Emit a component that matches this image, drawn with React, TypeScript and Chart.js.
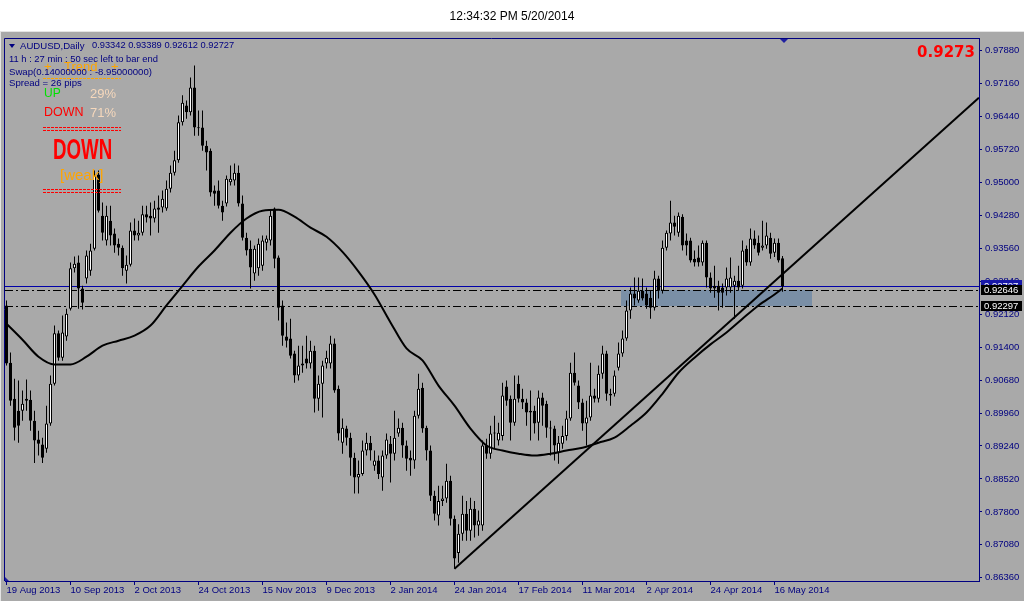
import React, { useEffect, useRef } from 'react';
import { Chart, registerables } from 'chart.js';

Chart.register(...registerables);

// ---- Daily AUDUSD candles (19 Aug 2013 .. 20 May 2014), index = trading day ----
const opens = [
  0.9231, 0.9106, 0.9027, 0.9001, 0.9001, 0.9023, 0.9025, 0.8979, 0.8938, 0.8927,
  0.8918, 0.8973, 0.9060, 0.9170, 0.9117, 0.9163, 0.9224, 0.9312, 0.9325, 0.9268,
  0.9290, 0.9307, 0.9355, 0.9517, 0.9427, 0.9373, 0.9416, 0.9388, 0.9366, 0.9357,
  0.9307, 0.9320, 0.9395, 0.9384, 0.9390, 0.9430, 0.9427, 0.9421, 0.9445, 0.9445,
  0.9443, 0.9486, 0.9521, 0.9548, 0.9631, 0.9668, 0.9653, 0.9707, 0.9620, 0.9620,
  0.9580, 0.9569, 0.9482, 0.9482, 0.9449, 0.9454, 0.9500, 0.9504, 0.9521, 0.9454,
  0.9379, 0.9355, 0.9301, 0.9312, 0.9318, 0.9368, 0.9373, 0.9443, 0.9336, 0.9231,
  0.9163, 0.9159, 0.9126, 0.9078, 0.9100, 0.9115, 0.9104, 0.9132, 0.9027, 0.9060,
  0.9104, 0.9104, 0.9148, 0.9049, 0.8931, 0.8962, 0.8942, 0.8898, 0.8855, 0.8863,
  0.8914, 0.8931, 0.8881, 0.8892, 0.8855, 0.8903, 0.8929, 0.8907, 0.8951, 0.8964,
  0.8925, 0.8898, 0.8892, 0.8990, 0.9051, 0.8964, 0.8914, 0.8815, 0.8772, 0.8804,
  0.8809, 0.8848, 0.8765, 0.8690, 0.8732, 0.8776, 0.8739, 0.8787, 0.8750, 0.8750,
  0.8925, 0.8907, 0.8951, 0.8936, 0.8946, 0.9054, 0.9027, 0.8975, 0.9060, 0.9027,
  0.9019, 0.8997, 0.9001, 0.8975, 0.9030, 0.9016, 0.8964, 0.8962, 0.8909, 0.8929,
  0.8946, 0.8984, 0.9084, 0.9056, 0.9019, 0.8973, 0.8986, 0.9034, 0.9027, 0.9082,
  0.9126, 0.9038, 0.9038, 0.9095, 0.9126, 0.9159, 0.9220, 0.9257, 0.9242, 0.9263,
  0.9257, 0.9248, 0.9226, 0.9290, 0.9263, 0.9357, 0.9388, 0.9412, 0.9390, 0.9425,
  0.9373, 0.9373, 0.9333, 0.9336, 0.9325, 0.9368, 0.9292, 0.9274, 0.9274, 0.9270,
  0.9270, 0.9270, 0.9274, 0.9285, 0.9274, 0.9355, 0.9325, 0.9377, 0.9368, 0.9357,
  0.9362, 0.9379, 0.9346, 0.9368, 0.93342,
];
const highs = [
  0.9242, 0.9128, 0.9071, 0.9067, 0.9045, 0.9069, 0.9045, 0.9001, 0.8957, 0.8942,
  0.9012, 0.9078, 0.9187, 0.9176, 0.9209, 0.9224, 0.9325, 0.9338, 0.9340, 0.9274,
  0.9351, 0.9366, 0.9526, 0.9526, 0.9456, 0.9449, 0.9449, 0.9399, 0.9377, 0.9362,
  0.9340, 0.9412, 0.9421, 0.9416, 0.9449, 0.9449, 0.9456, 0.9460, 0.9471, 0.9482,
  0.9504, 0.9537, 0.9569, 0.9646, 0.9690, 0.9679, 0.9729, 0.9755, 0.9657, 0.9657,
  0.9591, 0.9574, 0.9493, 0.9504, 0.9460, 0.9515, 0.9537, 0.9541, 0.9537, 0.9471,
  0.9390, 0.9373, 0.9362, 0.9377, 0.9384, 0.9384, 0.9438, 0.9445, 0.9340, 0.9242,
  0.9194, 0.9202, 0.9132, 0.9143, 0.9143, 0.9165, 0.9154, 0.9143, 0.9078, 0.9110,
  0.9132, 0.9165, 0.9159, 0.9056, 0.8984, 0.8968, 0.8953, 0.8909, 0.8892, 0.8936,
  0.8953, 0.8946, 0.8914, 0.8903, 0.8914, 0.8951, 0.8946, 0.9001, 0.8984, 0.8975,
  0.8936, 0.8914, 0.9001, 0.9082, 0.9062, 0.8968, 0.8925, 0.8826, 0.8837, 0.8837,
  0.8885, 0.8859, 0.8772, 0.8753, 0.8815, 0.8804, 0.8811, 0.8804, 0.8783, 0.8936,
  0.8940, 0.8968, 0.8990, 0.8975, 0.9062, 0.9067, 0.9034, 0.9078, 0.9078, 0.9049,
  0.9027, 0.9045, 0.9012, 0.9045, 0.9040, 0.9023, 0.8979, 0.8968, 0.8946, 0.8968,
  0.9001, 0.9106, 0.9128, 0.9067, 0.9027, 0.9023, 0.9106, 0.9049, 0.9100, 0.9143,
  0.9132, 0.9049, 0.9089, 0.9150, 0.9176, 0.9242, 0.9270, 0.9292, 0.9292, 0.9290,
  0.9270, 0.9263, 0.9307, 0.9296, 0.9373, 0.9395, 0.9460, 0.9427, 0.9434, 0.9430,
  0.9388, 0.9379, 0.9351, 0.9362, 0.9373, 0.9373, 0.9303, 0.9318, 0.9285, 0.9279,
  0.9314, 0.9336, 0.9296, 0.9318, 0.9373, 0.9362, 0.9399, 0.9395, 0.9384, 0.9416,
  0.9412, 0.9390, 0.9377, 0.9377, 0.93389,
];
const lows = [
  0.9100, 0.9012, 0.8936, 0.8931, 0.8979, 0.9001, 0.8957, 0.8887, 0.8903, 0.8887,
  0.8909, 0.8968, 0.9056, 0.9110, 0.9110, 0.9154, 0.9220, 0.9303, 0.9224, 0.9222,
  0.9279, 0.9296, 0.9351, 0.9434, 0.9373, 0.9362, 0.9362, 0.9346, 0.9340, 0.9296,
  0.9279, 0.9316, 0.9373, 0.9373, 0.9384, 0.9412, 0.9384, 0.9412, 0.9390, 0.9434,
  0.9438, 0.9478, 0.9515, 0.9543, 0.9624, 0.9639, 0.9646, 0.9602, 0.9602, 0.9569,
  0.9526, 0.9469, 0.9449, 0.9443, 0.9416, 0.9447, 0.9493, 0.9493, 0.9447, 0.9373,
  0.9340, 0.9268, 0.9285, 0.9296, 0.9307, 0.9351, 0.9362, 0.9312, 0.9198, 0.9143,
  0.9139, 0.9115, 0.9062, 0.9067, 0.9084, 0.9093, 0.9093, 0.8997, 0.9001, 0.8986,
  0.9093, 0.9093, 0.9040, 0.8936, 0.8907, 0.8925, 0.8859, 0.8820, 0.8820, 0.8859,
  0.8903, 0.8892, 0.8870, 0.8852, 0.8826, 0.8896, 0.8844, 0.8892, 0.8944, 0.8898,
  0.8870, 0.8859, 0.8874, 0.8984, 0.8953, 0.8892, 0.8804, 0.8761, 0.8750, 0.8793,
  0.8800, 0.8750, 0.8656, 0.8669, 0.8717, 0.8717, 0.8717, 0.8724, 0.8728, 0.8739,
  0.8896, 0.8896, 0.8918, 0.8925, 0.8936, 0.9012, 0.8936, 0.8968, 0.9019, 0.9005,
  0.8968, 0.8936, 0.8951, 0.8936, 0.8968, 0.8942, 0.8903, 0.8892, 0.8885, 0.8918,
  0.8936, 0.8979, 0.9056, 0.9005, 0.8957, 0.8925, 0.8979, 0.9019, 0.9019, 0.9071,
  0.9023, 0.9012, 0.9032, 0.9089, 0.9119, 0.9154, 0.9202, 0.9231, 0.9237, 0.9242,
  0.9224, 0.9202, 0.9220, 0.9246, 0.9257, 0.9351, 0.9373, 0.9384, 0.9381, 0.9351,
  0.9340, 0.9325, 0.9316, 0.9316, 0.9318, 0.9270, 0.9259, 0.9248, 0.9220, 0.9226,
  0.9253, 0.9259, 0.9202, 0.9263, 0.9268, 0.9318, 0.9318, 0.9355, 0.9340, 0.9351,
  0.9355, 0.9333, 0.9337, 0.9325, 0.92612,
];
const closes = [
  0.9104, 0.9023, 0.8964, 0.8968, 0.9016, 0.9027, 0.8979, 0.8936, 0.8929, 0.8898,
  0.8973, 0.9060, 0.9170, 0.9117, 0.9172, 0.9213, 0.9312, 0.9322, 0.9268, 0.9237,
  0.9340, 0.9351, 0.9515, 0.9438, 0.9390, 0.9427, 0.9384, 0.9362, 0.9357, 0.9312,
  0.9320, 0.9395, 0.9384, 0.9390, 0.9430, 0.9423, 0.9421, 0.9443, 0.9440, 0.9464,
  0.9486, 0.9521, 0.9548, 0.9631, 0.9674, 0.9653, 0.9707, 0.9620, 0.9618, 0.9580,
  0.9565, 0.9478, 0.9475, 0.9449, 0.9434, 0.9508, 0.9508, 0.9521, 0.9454, 0.9379,
  0.9351, 0.9314, 0.9355, 0.9366, 0.9373, 0.9377, 0.9427, 0.9333, 0.9226, 0.9165,
  0.9154, 0.9121, 0.9078, 0.9100, 0.9104, 0.9104, 0.9132, 0.9027, 0.9060, 0.9100,
  0.9117, 0.9148, 0.9045, 0.8951, 0.8964, 0.8942, 0.8898, 0.8855, 0.8863, 0.8914,
  0.8931, 0.8914, 0.8892, 0.8863, 0.8903, 0.8938, 0.8907, 0.8942, 0.8964, 0.8925,
  0.8896, 0.8892, 0.8990, 0.9049, 0.8962, 0.8914, 0.8815, 0.8776, 0.8804, 0.8809,
  0.8848, 0.8765, 0.8678, 0.8732, 0.8776, 0.8739, 0.8787, 0.8750, 0.8761, 0.8925,
  0.8907, 0.8951, 0.8953, 0.8953, 0.9034, 0.9023, 0.8975, 0.9027, 0.9027, 0.9019,
  0.8997, 0.9001, 0.8973, 0.9030, 0.9012, 0.8964, 0.8962, 0.8925, 0.8931, 0.8946,
  0.8984, 0.9084, 0.9062, 0.9019, 0.8973, 0.8986, 0.9034, 0.9027, 0.9082, 0.9126,
  0.9038, 0.9034, 0.9078, 0.9126, 0.9159, 0.9220, 0.9257, 0.9246, 0.9263, 0.9246,
  0.9231, 0.9226, 0.9290, 0.9263, 0.9357, 0.9390, 0.9412, 0.9403, 0.9427, 0.9362,
  0.9362, 0.9329, 0.9325, 0.9325, 0.9368, 0.9292, 0.9268, 0.9268, 0.9259, 0.9259,
  0.9290, 0.9292, 0.9285, 0.9270, 0.9351, 0.9325, 0.9377, 0.9362, 0.9346, 0.9362,
  0.9384, 0.9344, 0.9368, 0.9329, 0.92727,
];

// ---- moving average (at every 4th bar) ----
const maIndex = [
  0, 4, 8, 12, 16, 20, 24, 28, 32, 36, 40, 44, 48, 52, 56, 60, 64, 68, 72, 76,
  80, 84, 88, 92, 96, 100, 104, 108, 112, 116, 120, 124, 128, 132, 136, 140, 144,
  148, 152, 156, 160, 164, 168, 172, 176, 180, 184, 188, 192, 194,
];
const maValues = [
  0.9191, 0.9156, 0.9119, 0.9102, 0.9102, 0.9119, 0.9143, 0.9154, 0.9165, 0.9187,
  0.9231, 0.9274, 0.9316, 0.9351, 0.9390, 0.9421, 0.9438, 0.9440, 0.9425, 0.9401,
  0.9381, 0.9348, 0.9305, 0.9255, 0.9194, 0.9137, 0.9111, 0.9056, 0.9012, 0.8962,
  0.8925, 0.8914, 0.8907, 0.8903, 0.8907, 0.8914, 0.8920, 0.8931, 0.8942, 0.8968,
  0.8997, 0.9038, 0.9084, 0.9117, 0.9146, 0.9172, 0.9202, 0.9231, 0.9255, 0.9268,
];

// ---- trend line (two anchor points) ----
const trendIndex = [112, 243.1];
const trendValues = [0.8656, 0.9685];

// ---- levels ----
const bidPrice = 0.92727;
const levelPrices = [0.92646, 0.92297];
const zoneIndex = [153.6, 201.4];

// ---- axes ----
const dateTickIndex = [0, 16, 32, 48, 64, 80, 96, 112, 128, 144, 160, 176, 192];
const dateTickLabels = [
  '19 Aug 2013', '10 Sep 2013', '2 Oct 2013', '24 Oct 2013', '15 Nov 2013', '9 Dec 2013',
  '2 Jan 2014', '24 Jan 2014', '17 Feb 2014', '11 Mar 2014', '2 Apr 2014', '24 Apr 2014',
  '16 May 2014',
];
const priceTicks = [
  0.9788, 0.9716, 0.9644, 0.9572, 0.95, 0.9428, 0.9356, 0.9284, 0.9212, 0.914,
  0.9068, 0.8996, 0.8924, 0.8852, 0.878, 0.8708, 0.8636,
];
const priceMin = 0.8629;
const priceMax = 0.98153;

const FONT = "'Liberation Sans', Arial, sans-serif";
const NAVY = '#000080';
const BG = '#a9a9a9';

function T(props: any) {
  const { x, cy, size, color, children, bold, family, scaleX, right } = props;
  const style: any = {
    position: 'absolute',
    top: cy - size * 0.49,
    fontSize: size,
    lineHeight: 1,
    color,
    fontFamily: family || FONT,
    fontWeight: bold ? 'bold' : 'normal',
    whiteSpace: 'nowrap',
  };
  if (right !== undefined) style.right = 1024 - right;
  else style.left = x;
  if (scaleX) {
    style.transform = `scaleX(${scaleX})`;
    style.transformOrigin = 'left center';
  }
  return <div style={style}>{children}</div>;
}

function Dashes(props: any) {
  const { x, y, w, color } = props;
  return (
    <div
      style={{
        position: 'absolute',
        left: x,
        top: y,
        width: w,
        height: 1,
        background: `repeating-linear-gradient(90deg, ${color} 0px, ${color} 3px, transparent 3px, transparent 4px)`,
      }}
    />
  );
}

export default function App() {
  const ref = useRef<HTMLCanvasElement>(null);

  useEffect(() => {
    document.body.style.margin = '0';
    document.body.style.overflow = 'hidden';
    const canvas = ref.current;
    if (!canvas) return;

    const bodyColors = opens.map((o, i) => (closes[i] >= o ? '#ffffff' : '#000000'));

    const decor = {
      id: 'decor',
      beforeDraw(chart: any) {
        const { ctx, width, height } = chart;
        ctx.save();
        ctx.fillStyle = '#ffffff';
        ctx.fillRect(0, 0, width, height);
        ctx.fillStyle = BG;
        ctx.fillRect(0, 32, width, height - 32);
        ctx.fillStyle = '#e4e4e4';
        ctx.fillRect(0, 31, width, 1);
        ctx.fillRect(0, 31, 1, height - 31);
        ctx.restore();
      },
      beforeDatasetsDraw(chart: any) {
        const { ctx, chartArea: a, scales } = chart;
        const x = scales.x;
        const y = scales.y;
        ctx.save();
        ctx.beginPath();
        ctx.rect(a.left, a.top, a.right - a.left, a.bottom - a.top);
        ctx.clip();
        const zx1 = Math.round(x.getPixelForValue(zoneIndex[0]));
        const zx2 = Math.round(x.getPixelForValue(zoneIndex[1]));
        const zy1 = Math.round(y.getPixelForValue(levelPrices[0]));
        const zy2 = Math.round(y.getPixelForValue(levelPrices[1]));
        ctx.fillStyle = '#7a8fa6';
        ctx.fillRect(zx1, zy1, zx2 - zx1, zy2 - zy1);
        const by = Math.floor(y.getPixelForValue(bidPrice)) + 0.5;
        ctx.strokeStyle = '#0000a8';
        ctx.lineWidth = 1;
        ctx.beginPath();
        ctx.moveTo(a.left, by);
        ctx.lineTo(a.right, by);
        ctx.stroke();
        ctx.strokeStyle = '#000000';
        ctx.setLineDash([8, 3, 2, 3]);
        levelPrices.forEach((p) => {
          const ly = Math.floor(y.getPixelForValue(p)) + 0.5;
          ctx.beginPath();
          ctx.moveTo(a.left, ly);
          ctx.lineTo(a.right, ly);
          ctx.stroke();
        });
        ctx.restore();
      },
      afterDraw(chart: any) {
        const { ctx, chartArea: a, scales } = chart;
        const x = scales.x;
        const y = scales.y;
        ctx.save();
        ctx.strokeStyle = NAVY;
        ctx.lineWidth = 1;
        ctx.beginPath();
        ctx.moveTo(a.left - 0.5, a.bottom);
        ctx.lineTo(a.left - 0.5, a.top + 0.5);
        ctx.lineTo(a.right, a.top + 0.5);
        ctx.stroke();
        const boxes = [
          { p: bidPrice, bg: '#1818a8', h: 13 },
          { p: levelPrices[0], bg: '#000000', h: 10 },
          { p: levelPrices[1], bg: '#000000', h: 10 },
        ];
        ctx.font = `9.5px ${FONT}`;
        ctx.textBaseline = 'middle';
        ctx.textAlign = 'left';
        boxes.forEach((b) => {
          const cy = Math.round(y.getPixelForValue(b.p));
          ctx.fillStyle = b.bg;
          ctx.fillRect(a.right + 2, cy - Math.floor(b.h / 2), 41, b.h);
          ctx.fillStyle = '#ffffff';
          ctx.fillText(b.p.toFixed(5), a.right + 5, cy + 0.5);
        });
        const sx = Math.round(x.getPixelForValue(closes.length - 1)) + 1;
        ctx.fillStyle = '#2020a0';
        ctx.beginPath();
        ctx.moveTo(sx - 4, a.top + 1);
        ctx.lineTo(sx + 4, a.top + 1);
        ctx.lineTo(sx, a.top + 5);
        ctx.closePath();
        ctx.fill();
        ctx.beginPath();
        ctx.moveTo(a.left, a.bottom - 4);
        ctx.lineTo(a.left, a.bottom);
        ctx.lineTo(a.left + 4, a.bottom);
        ctx.closePath();
        ctx.fill();
        ctx.restore();
      },
    };

    const chart = new Chart(canvas, {
      type: 'bar',
      data: {
        datasets: [
          {
            type: 'line',
            label: 'MA',
            data: maIndex.map((v, k) => ({ x: v, y: maValues[k] })),
            borderColor: '#000000',
            borderWidth: 2,
            pointRadius: 0,
            cubicInterpolationMode: 'monotone',
            order: 0,
          },
          {
            type: 'line',
            label: 'Trend',
            data: trendIndex.map((v, k) => ({ x: v, y: trendValues[k] })),
            borderColor: '#000000',
            borderWidth: 2,
            pointRadius: 0,
            order: 0,
          },
          {
            type: 'bar',
            label: 'Body',
            data: opens.map((o, i) => ({ x: i, y: [Math.min(o, closes[i]), Math.max(o, closes[i])] })),
            backgroundColor: bodyColors,
            borderColor: '#000000',
            borderWidth: 1,
            borderSkipped: false,
            barThickness: 3,
            minBarLength: 1,
            grouped: false,
            inflateAmount: 0,
            order: 1,
          },
          {
            type: 'bar',
            label: 'Wick',
            data: lows.map((l, i) => ({ x: i, y: [l, highs[i]] })),
            backgroundColor: '#000000',
            borderWidth: 0,
            barThickness: 1,
            minBarLength: 1,
            grouped: false,
            inflateAmount: 0,
            order: 2,
          },
        ],
      } as any,
      options: {
        responsive: false,
        animation: false,
        events: [],
        layout: { padding: { left: 5, top: 38, right: 0, bottom: 0 } },
        plugins: {
          legend: { display: false },
          tooltip: { enabled: false },
          title: { display: false },
        },
        scales: {
          x: {
            type: 'linear',
            position: 'bottom',
            min: -0.375,
            max: 243.125,
            offset: false,
            afterBuildTicks: (s: any) => {
              s.ticks = dateTickIndex.map((v) => ({ value: v }));
            },
            afterFit: (s: any) => {
              s.height = 20;
            },
            ticks: {
              autoSkip: false,
              maxRotation: 0,
              align: 'start',
              padding: 0,
              color: NAVY,
              font: { family: FONT, size: 9.5 },
              callback: (v: any) => {
                const k = dateTickIndex.indexOf(Number(v));
                return k >= 0 ? dateTickLabels[k] : '';
              },
            },
            grid: { drawOnChartArea: false, drawTicks: true, tickLength: 4, color: NAVY, offset: false },
            border: { display: true, color: NAVY, width: 1 },
          },
          y: {
            type: 'linear',
            position: 'right',
            min: priceMin,
            max: priceMax,
            bounds: 'data',
            afterBuildTicks: (s: any) => {
              s.ticks = priceTicks.map((v) => ({ value: v }));
            },
            afterFit: (s: any) => {
              s.width = 45;
            },
            ticks: {
              padding: 3,
              color: NAVY,
              font: { family: FONT, size: 9.5 },
              callback: (v: any) => Number(v).toFixed(5),
            },
            grid: { drawOnChartArea: false, drawTicks: true, tickLength: 3, color: NAVY },
            border: { display: true, color: NAVY, width: 1 },
          },
        },
      } as any,
      plugins: [decor],
    });

    return () => {
      chart.destroy();
    };
  }, []);

  return (
    <div
      style={{
        position: 'absolute',
        left: 0,
        top: 0,
        width: 1024,
        height: 601,
        overflow: 'hidden',
        background: '#ffffff',
      }}
    >
      <canvas ref={ref} width={1024} height={601} style={{ position: 'absolute', left: 0, top: 0 }} />
      <div
        style={{
          position: 'absolute',
          left: 0,
          top: 10,
          width: 1024,
          textAlign: 'center',
          fontFamily: FONT,
          fontSize: 12,
          lineHeight: '12px',
          color: '#000000',
        }}
      >
        12:34:32 PM 5/20/2014
      </div>

      <T x={44} cy={66} size={13} color="#ffa500">+</T>
      <T x={64} cy={66} size={13} color="#ffa500">Trend</T>
      <T x={111} cy={66} size={13} color="#ffa500">+</T>
      <Dashes x={43} y={78} w={78} color="#ffa500" />

      <div
        style={{
          position: 'absolute',
          left: 9,
          top: 44,
          width: 0,
          height: 0,
          borderLeft: '3px solid transparent',
          borderRight: '3px solid transparent',
          borderTop: `4px solid ${NAVY}`,
        }}
      />
      <T x={20} cy={46} size={9.6} color={NAVY}>AUDUSD,Daily</T>
      <T x={92} cy={46} size={9.3} color={NAVY}>0.93342 0.93389 0.92612 0.92727</T>
      <T x={9} cy={59} size={9.4} color={NAVY}>11 h : 27 min : 50 sec left to bar end</T>
      <T x={9} cy={71.5} size={9.6} color={NAVY}>Swap(0.14000000 : -8.95000000)</T>
      <T x={9} cy={83} size={9.6} color={NAVY}>Spread = 26 pips</T>

      <T x={44} cy={93} size={12} color="#00e000">UP</T>
      <T x={90} cy={93} size={13} color="#f6d8bc">29%</T>
      <T x={44} cy={112.5} size={12.5} color="#ff0000">DOWN</T>
      <T x={90} cy={112.5} size={13} color="#f6d8bc">71%</T>
      <Dashes x={43} y={127} w={78} color="#ff0000" />
      <Dashes x={43} y={130} w={78} color="#ff0000" />
      <T x={53} cy={149} size={29} bold color="#ff0000" scaleX={0.645}>DOWN</T>
      <T x={60} cy={174} size={15} color="#ffa500">[weak]</T>
      <Dashes x={43} y={189} w={78} color="#ff0000" />
      <Dashes x={43} y={192} w={78} color="#ff0000" />

      <T right={975} cy={52} size={15} bold family="'DejaVu Sans', sans-serif" color="#ff0000">0.9273</T>
    </div>
  );
}
